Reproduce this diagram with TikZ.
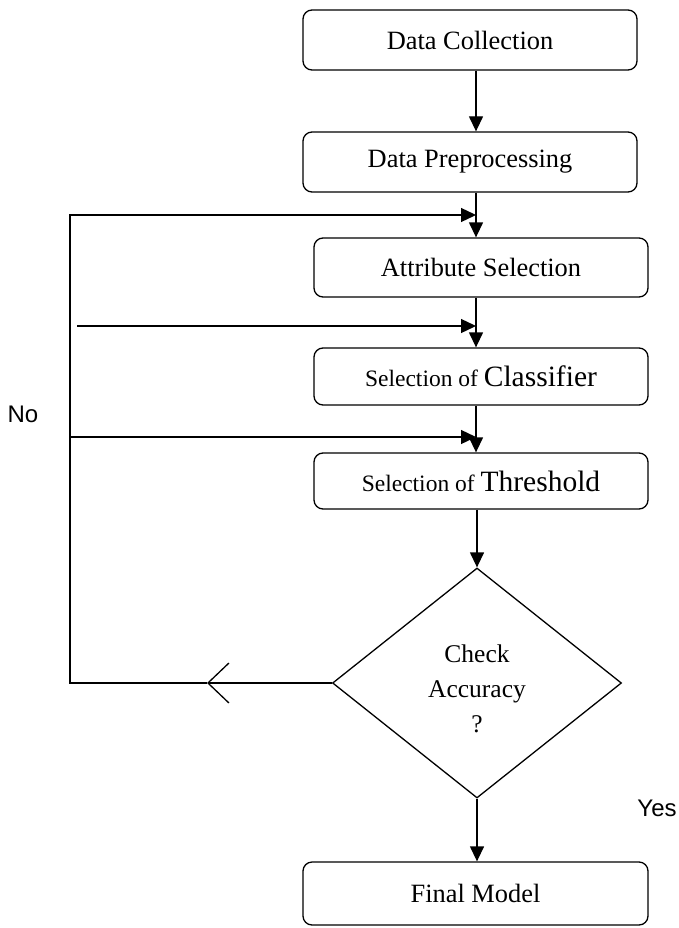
\documentclass[tikz,border=0pt]{standalone}
\usepackage{fontspec}
\setmainfont{Liberation Serif}
\newfontfamily\arialf{Liberation Sans}
\usetikzlibrary{shapes.geometric,arrows.meta}
\newcommand{\bigw}[1]{{\fontsize{29.5}{33}\selectfont #1}}
\begin{document}
\begin{tikzpicture}[x=1pt,y=-1pt, line width=1.3pt,
  box/.style={draw, rounded corners=9pt, minimum width=334pt, minimum height=60pt, inner sep=0pt, font=\fontsize{26.4}{30}\selectfont},
  arr/.style={-{Triangle[width=14pt,length=15pt]}},
  dec/.style={draw, diamond, inner sep=0pt, minimum width=289pt, minimum height=230pt},
  dtxt/.style={font=\fontsize{25.5}{30}\selectfont, inner sep=0pt, anchor=base},
  lab/.style={font=\arialf\fontsize{24}{28}\selectfont, inner sep=0pt}]
\useasboundingbox (0,0) rectangle (679,928);

\node[box] (dc) at (470,40) {Data Collection};
\node[box] (dp) at (470,162) {Data Preprocessing};
\node[box, minimum height=59pt] (as) at (481,267.5) {Attribute Selection};
\node[box, minimum height=57pt, font=\fontsize{23.5}{28}\selectfont] (sc) at (481,376.5) {Selection of \bigw{Classifier}};
\node[box, minimum height=56pt, font=\fontsize{23.5}{28}\selectfont] (st) at (481,481) {Selection of \bigw{Threshold}};
\node[dec] (dia) at (477,683) {};
\node[dtxt] (t1) at (477,662) {Check};
\node[dtxt] (t2) at (477,697) {Accuracy};
\node[dtxt] (t3) at (477,732) {?};
\node[box, minimum width=345pt, minimum height=63pt] (fm) at (475.5,893.5) {Final Model};
\node[lab] (no) at (23,414) {No};
\node[lab] (yes) at (657,808) {Yes};

\coordinate (ax) at (476,0);
\coordinate (j1) at (476,215);
\coordinate (j2) at (476,326);
\coordinate (j3) at (476,437);
\coordinate (fl) at (70,0);
\coordinate (s2) at (77,326);
\coordinate (mid) at (207,683);

\draw[arr] (dc.south -| ax) -- (dp.north -| ax);
\draw[arr] (dp.south -| ax) -- (as.north -| ax);
\draw[arr] (as.south -| ax) -- (sc.north -| ax);
\draw[arr] (sc.south -| ax) -- (st.north -| ax);
\draw[arr] (st.south -| dia.north) -- (dia.north);
\draw[arr] (dia.south) -- (fm.north -| dia.south);
\draw[-{Straight Barb[length=21pt,width=40pt]}] (dia.west) -- (mid);
\draw[arr] (mid) -- (fl |- mid) -- (fl |- j1) -- (j1);
\draw[arr] (fl |- j3) -- (j3);
\draw[arr] (s2) -- (j2);
\end{tikzpicture}
\end{document}
